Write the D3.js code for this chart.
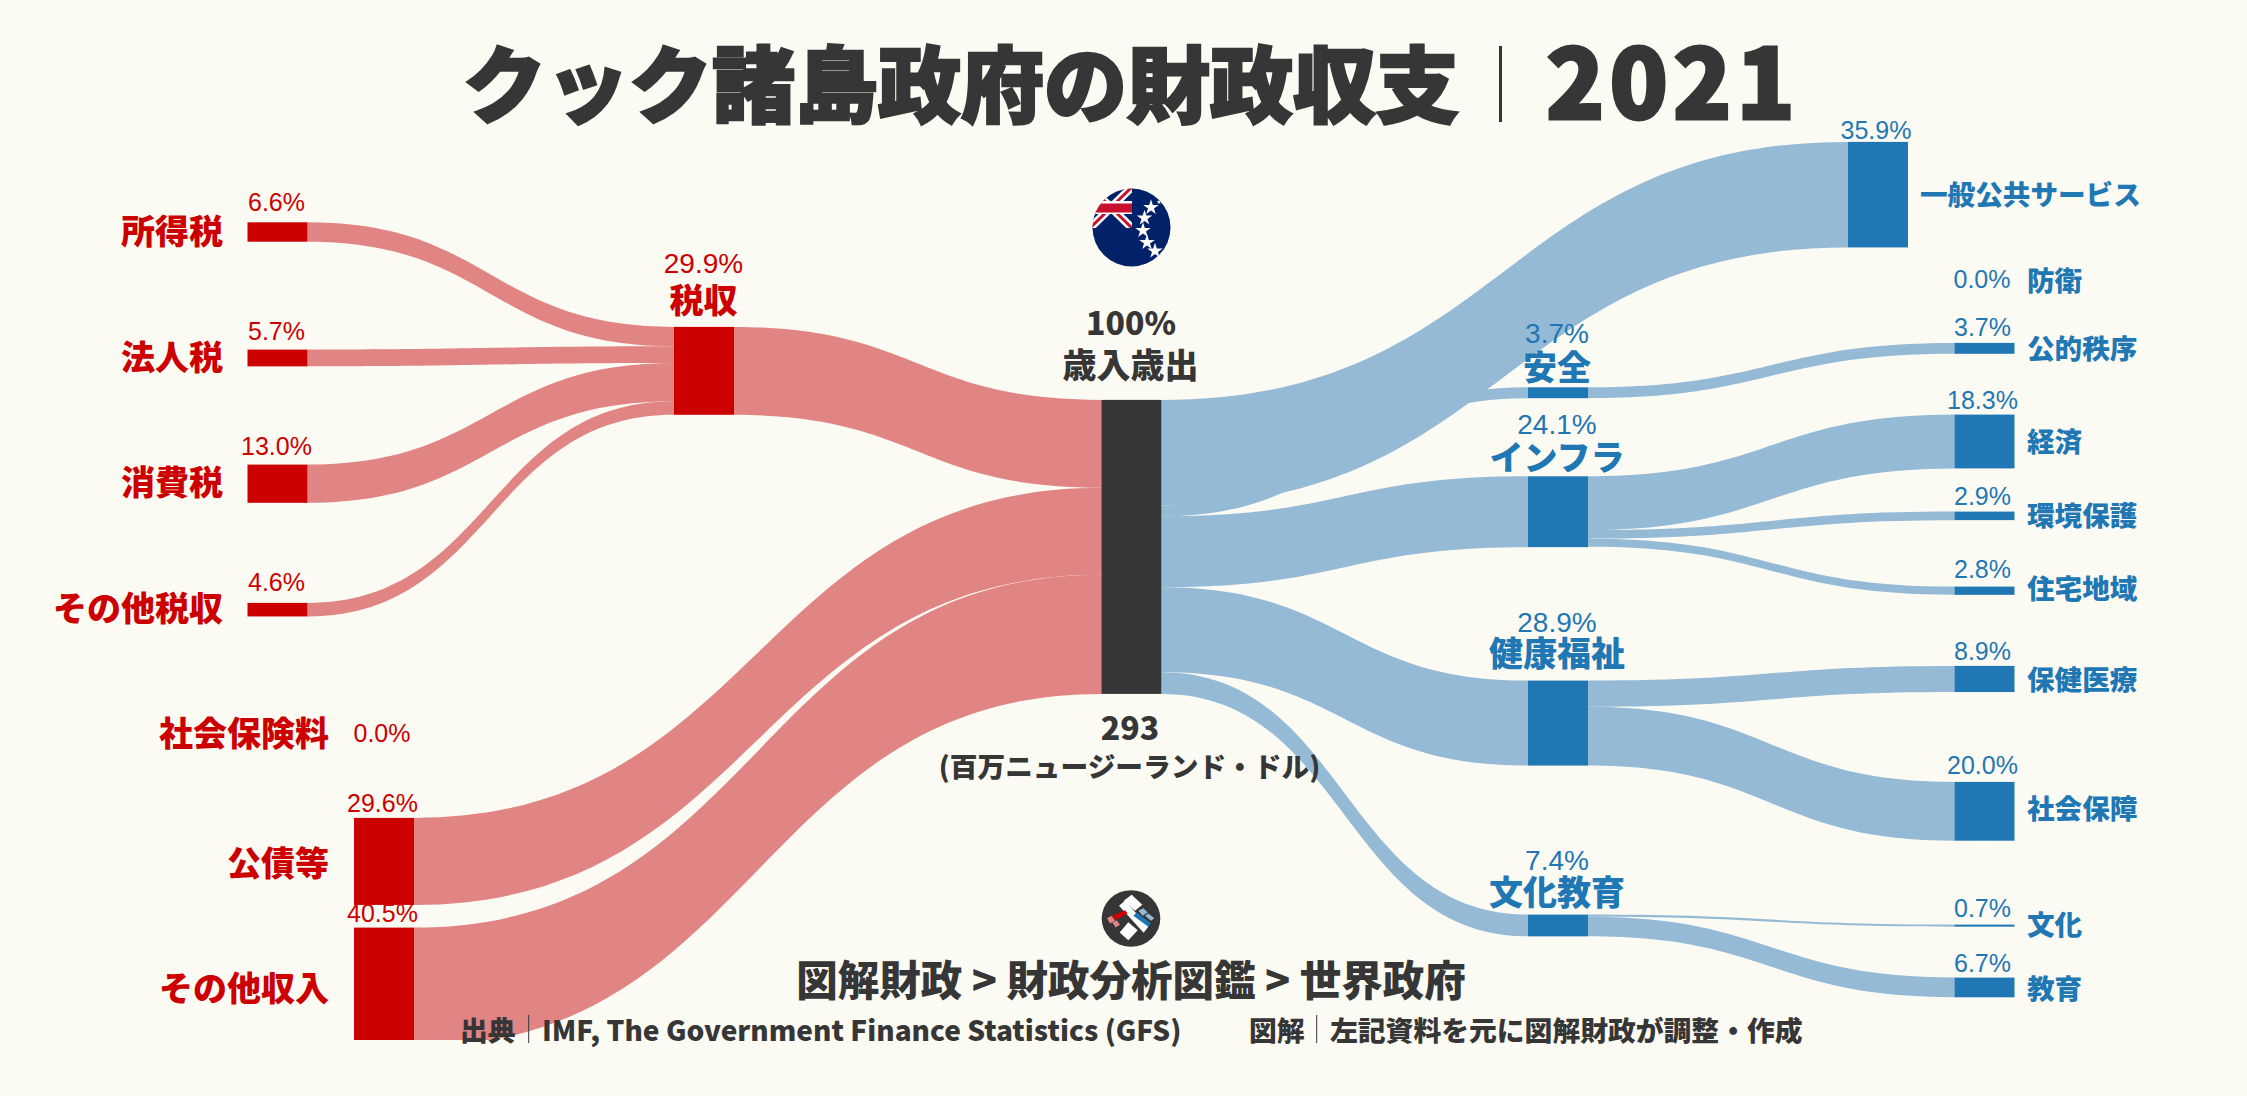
<!DOCTYPE html>
<html lang="ja"><head><meta charset="utf-8">
<script src="https://cdn.jsdelivr.net/npm/d3@7"></script>
<style>html,body{margin:0;padding:0;background:#FCFBF3}svg{display:block}</style>
</head><body><svg id="c" width="2247" height="1096"></svg>
<script>
// ---- data ----
const nodeNames = ["所得税","法人税","消費税","その他税収","社会保険料","公債等","その他収入","税収","歳入歳出",
  "一般公共サービス","安全","インフラ","健康福祉","文化教育","防衛","公的秩序","経済","環境保護","住宅地域","保健医療","社会保障","文化","教育"];
const nodeValues = [6.6,5.7,13.0,4.6,0.0,29.6,40.5,29.9,100,35.9,3.7,24.1,28.9,7.4,0.0,3.7,18.3,2.9,2.8,8.9,20.0,0.7,6.7];
const linkSources = ["所得税","法人税","消費税","その他税収","税収","公債等","その他収入","歳入歳出","歳入歳出","歳入歳出","歳入歳出","歳入歳出","安全","インフラ","インフラ","インフラ","健康福祉","健康福祉","文化教育","文化教育"];
const linkTargets = ["税収","税収","税収","税収","歳入歳出","歳入歳出","歳入歳出","一般公共サービス","安全","インフラ","健康福祉","文化教育","公的秩序","経済","環境保護","住宅地域","保健医療","社会保障","文化","教育"];
const linkValues = [6.6,5.7,13.0,4.6,29.9,29.6,40.5,35.9,3.7,24.1,28.9,7.4,3.7,18.3,2.9,2.8,8.9,20.0,0.7,6.7];
const totalLabel = "293";
const unitLabel = "(百万ニュージーランド・ドル)";

// ---- layout (pixels on the canvas, separate from the data) ----
const W=2247,H=1096,BW=60;
const C={red:"#CC0000",blue:"#1F77B4",dark:"#363636",redL:"#E08484",blueL:"#94BAD6",bg:"#FCFBF3"};
// name: [x, top, group, labelMode, labelX, labelY, pctX, pctBaseline]
const layout={
 "所得税":[247.5,222.3,"red","L",223,229,276.5,210.5],
 "法人税":[247.5,349.6,"red","L",223,355.7,276.5,339.5],
 "消費税":[247.5,464.6,"red","L",223,480.7,276.5,454.5],
 "その他税収":[247.5,602.9,"red","L",223,606,276.5,590.5],
 "社会保険料":[354,731,"red","L",329,731.7,382,742],
 "公債等":[354,817.9,"red","L",329,861.7,382.5,812],
 "その他収入":[354,927.6,"red","L",329,986.7,382.5,922],
 "税収":[674,326.9,"red","M",703.5,298,703.5,272.5],
 "歳入歳出":[1101.4,399.9,"dark","M",1130.5,363,1131,335],
 "一般公共サービス":[1848,141.9,"blue","R",1920,193,1876,138.5],
 "安全":[1528,387.3,"blue","M",1557,365,1557,342.5],
 "インフラ":[1528,476.3,"blue","M",1557,455,1557,434],
 "健康福祉":[1528,680.6,"blue","M",1557,651.7,1557,631.5],
 "文化教育":[1528,914.6,"blue","M",1557,890.7,1557,870],
 "防衛":[1954.5,280,"blue","R",2027,279,1982,288],
 "公的秩序":[1954.5,342.9,"blue","R",2027,346.7,1982.5,336],
 "経済":[1954.5,414.6,"blue","R",2027,440,1982.5,409],
 "環境保護":[1954.5,511.6,"blue","R",2027,514,1982.5,505],
 "住宅地域":[1954.5,586.6,"blue","R",2027,586.7,1982.5,577.5],
 "保健医療":[1954.5,665.9,"blue","R",2027,678,1982.5,660],
 "社会保障":[1954.5,781.9,"blue","R",2027,806.7,1982.5,773.5],
 "文化":[1954.5,924.6,"blue","R",2027,923,1982.5,917],
 "教育":[1954.5,977.6,"blue","R",2027,986.7,1982.5,971.5]
};
const h=d3.scaleLinear().domain([0,100]).range([0,294]);
const CJK="'Noto Sans CJK JP','Noto Sans',sans-serif", ARIAL="'Liberation Sans',Arial,sans-serif";
const svg=d3.select("#c");
svg.append("rect").attr("width",W).attr("height",H).attr("fill",C.bg);
const defs=svg.append("defs");
defs.append("clipPath").attr("id","plot").append("rect").attr("x",0).attr("y",0).attr("width",W).attr("height",1040);
defs.append("clipPath").attr("id","flagClip").append("circle").attr("cx",1131.5).attr("cy",227.5).attr("r",39);
defs.append("clipPath").attr("id","cantonClip").append("rect").attr("x",1090).attr("y",187).attr("width",42).attr("height",41);

// ---- build nodes / links ----
const nodes=new Map(nodeNames.map((n,i)=>{const L=layout[n];return [n,{name:n,value:nodeValues[i],x0:L[0],x1:L[0]+BW,y0:L[1],y1:L[1]+h(nodeValues[i]),group:L[2],mode:L[3],lx:L[4],ly:L[5],px:L[6],py:L[7],so:0,to:0}];}));
const links=linkValues.map((v,i)=>{
  const s=nodes.get(linkSources[i]),t=nodes.get(linkTargets[i]),w=h(v);
  const l={s,t,v,w,ys:s.y0+s.so,yt:t.y0+t.to}; s.so+=w; t.to+=w; return l;
});
function bandPath(l){
  const x0=l.s.x1,x1=l.t.x0,xi=d3.interpolateNumber(x0,x1),a=xi(.5);
  const p=d3.path();
  p.moveTo(x0,l.ys);
  p.bezierCurveTo(a,l.ys,a,l.yt,x1,l.yt);
  p.lineTo(x1,l.yt+l.w);
  p.bezierCurveTo(a,l.yt+l.w,a,l.ys+l.w,x0,l.ys+l.w);
  p.closePath();
  return p.toString();
}
const plot=svg.append("g").attr("clip-path","url(#plot)");
plot.selectAll("path.link").data(links).join("path").attr("class","link")
  .attr("d",bandPath).attr("fill",d=>d.s.group==="red"?C.redL:C.blueL);
plot.selectAll("rect.node").data([...nodes.values()].filter(d=>d.value>0)).join("rect").attr("class","node")
  .attr("x",d=>d.x0).attr("y",d=>d.y0).attr("width",BW).attr("height",d=>d.y1-d.y0).attr("fill",d=>C[d.group]);

// ---- node labels ----
const fmt=v=>v.toFixed(1)+"%";
const all=[...nodes.values()];
function sizeOf(d){return d.mode==="L"?34:d.mode==="M"?34:27.6;}
svg.selectAll("text.name").data(all).join("text").attr("class","name")
 .attr("x",d=>d.lx).attr("y",d=>d.ly).attr("dominant-baseline","central")
 .attr("text-anchor",d=>d.mode==="L"?"end":d.mode==="M"?"middle":"start")
 .attr("font-family",CJK).attr("font-weight",900).attr("font-size",sizeOf).attr("fill",d=>C[d.group]).text(d=>d.name);
svg.selectAll("text.pct").data(all.filter(d=>d.name!=="歳入歳出")).join("text").attr("class","pct")
 .attr("x",d=>d.px).attr("y",d=>d.py).attr("text-anchor","middle").attr("font-family",ARIAL)
 .attr("font-size",d=>d.mode==="M"?28:25).attr("fill",d=>d.group==="red"?C.red:C.blue).text(d=>fmt(d.value));

const dark=(x,y,s,t,a="middle",w=700)=>svg.append("text").attr("x",x).attr("y",y).attr("text-anchor",a).attr("font-family",CJK).attr("font-weight",w).attr("font-size",s).attr("fill",C.dark).text(t);
dark(1131,335,32,"100%",undefined,900);
dark(1130,740,32,totalLabel,undefined,900);
dark(1129.5,777,27.7,unitLabel,undefined,800);

// ---- title ----
dark(463,116,83,"クック諸島政府の財政収支","start",900).attr("stroke",C.dark).attr("stroke-width",2.5);
svg.append("line").attr("x1",1500.5).attr("x2",1500.5).attr("y1",46).attr("y2",122).attr("stroke",C.dark).attr("stroke-width",3);
dark(1546,119,96,"2021","start",900).attr("letter-spacing",5).attr("stroke",C.dark).attr("stroke-width",3);

// ---- footer ----
dark(1131,996,41.5,"図解財政 > 財政分析図鑑 > 世界政府",undefined,900);
dark(460,1041,27.8,"出典","start",800);
dark(542,1041,28,"IMF, The Government Finance Statistics (GFS)","start",800);
dark(1249,1041,27.8,"図解","start",800);
dark(1330,1041,27.8,"左記資料を元に図解財政が調整・作成","start",800);
[528.7,1316.7].forEach(x=>svg.append("line").attr("x1",x).attr("x2",x).attr("y1",1015).attr("y2",1043).attr("stroke",C.dark).attr("stroke-width",1));

// ---- flag ----
const f=svg.append("g").attr("clip-path","url(#flagClip)");
f.append("rect").attr("x",1090).attr("y",185).attr("width",85).attr("height",85).attr("fill","#012169");
const c=f.append("g").attr("clip-path","url(#cantonClip)");
[[1090,187,1132,228],[1090,228,1132,187]].forEach(p=>{
 c.append("line").attr("x1",p[0]).attr("y1",p[1]).attr("x2",p[2]).attr("y2",p[3]).attr("stroke","#fff").attr("stroke-width",8);
 c.append("line").attr("x1",p[0]).attr("y1",p[1]).attr("x2",p[2]).attr("y2",p[3]).attr("stroke","#C8102E").attr("stroke-width",3);
});
c.append("rect").attr("x",1090).attr("y",201).attr("width",42).attr("height",13).attr("fill","#fff");
c.append("rect").attr("x",1090).attr("y",203.5).attr("width",42).attr("height",9).attr("fill","#C8102E");
const star=d3.symbol().type(d3.symbolStar).size(75);
[[1151,207.5],[1144.5,218],[1143,230.5],[1147,242.5],[1155,251],[1159,202]].forEach((p,i)=>f.append("path").attr("d",i===5?d3.symbol().type(d3.symbolStar).size(8)():star()).attr("transform",`translate(${p[0]},${p[1]})`).attr("fill","#fff"));

// ---- logo ----
const logoPolys=[
 ["#fff",[[110,22],[142,52],[120,70],[86,40]]],
 ["#fff",[[72,55],[90,40],[160,118],[146,136]]],
 ["#fff",[[100,104],[128,128],[100,158],[74,135]]],
 ["#CC0000",[[52,85],[90,68],[98,78],[60,98]]],
 ["#E08484",[[36,92],[50,85],[60,100],[45,108]]],
 ["#E08484",[[52,105],[65,98],[75,112],[62,120]]],
 ["#1F77B4",[[115,85],[125,75],[168,108],[160,118]]],
 ["#94BAD6",[[130,70],[145,62],[158,75],[143,85]]],
 ["#94BAD6",[[150,85],[160,78],[178,92],[168,100]]]
];
const lg=svg.append("g").attr("transform","translate(1095,887.5) scale(0.3333)");
lg.append("ellipse").attr("cx",108).attr("cy",93).attr("rx",88).attr("ry",85).attr("fill",C.dark);
lg.selectAll("polygon").data(logoPolys).join("polygon").attr("points",d=>d[1].join(" ")).attr("fill",d=>d[0]);
</script></body></html>
